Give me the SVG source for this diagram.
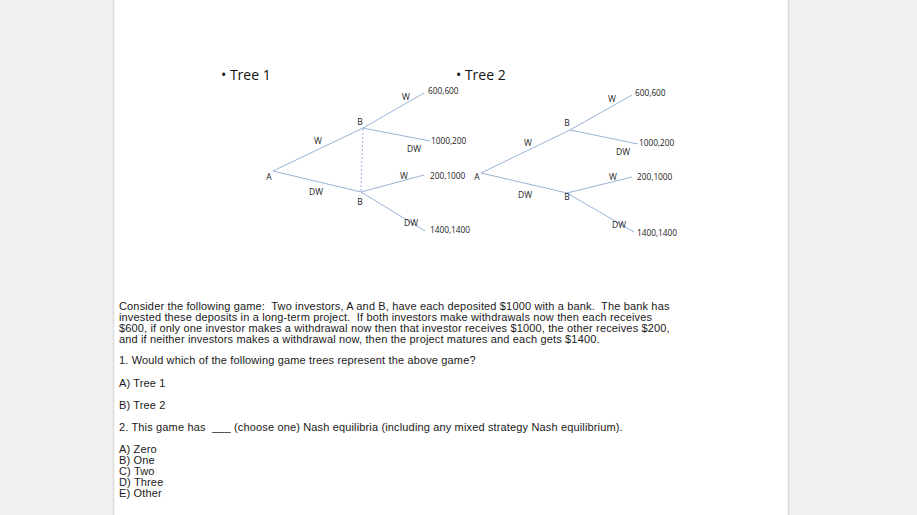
<svg xmlns="http://www.w3.org/2000/svg" width="917" height="515" viewBox="0 0 917 515">
<style>
.bg{fill:#f0f0f0}
.page{fill:#ffffff}
.edge{stroke:#dcdcdc;stroke-width:1.5}
.br{stroke:#9ab4d6;stroke-width:1;fill:none}
.dash{stroke:#9ab4d6;stroke-width:1;stroke-dasharray:2,2;fill:none}
.lbl{font-family:"Open Sans","Liberation Sans",sans-serif;font-size:8.5px;fill:#222}
.pay{font-family:"Open Sans","Liberation Sans",sans-serif;font-size:8.3px;fill:#222}
.hd{font-family:"Open Sans","Liberation Sans",sans-serif;font-size:14px;fill:#111}
.t{font-family:"Liberation Sans",Arial,sans-serif;font-size:11px;letter-spacing:0.15px;fill:#1a1a1a}
</style>
<rect class="bg" x="0" y="0" width="917" height="515"/>
<rect class="page" x="114" y="0" width="674" height="515"/>
<line class="edge" x1="113.5" y1="0" x2="113.5" y2="515"/>
<line class="edge" x1="788.5" y1="0" x2="788.5" y2="515"/>

<text class="hd" x="221" y="80">• Tree 1</text>
<text class="hd" x="456" y="80">• Tree 2</text>

<g id="connectors">
  <line class="br" x1="273" y1="171" x2="363" y2="128"/>
  <line class="br" x1="273" y1="171" x2="361" y2="192"/>
  <line class="dash" x1="363" y1="129" x2="361" y2="191"/>
  <line class="br" x1="363" y1="128" x2="424" y2="93"/>
  <line class="br" x1="363" y1="128" x2="430" y2="141"/>
  <line class="br" x1="361" y1="192" x2="424" y2="175"/>
  <line class="br" x1="361" y1="192" x2="425" y2="231"/>

  <line class="br" x1="481" y1="173" x2="570" y2="130"/>
  <line class="br" x1="481" y1="173" x2="567" y2="193"/>
  <line class="br" x1="570" y1="130" x2="632" y2="95"/>
  <line class="br" x1="570" y1="130" x2="638" y2="144"/>
  <line class="br" x1="567" y1="193" x2="632" y2="177"/>
  <line class="br" x1="567" y1="193" x2="634" y2="232"/>
</g>

<g id="t1-A"><text class="lbl" x="269" y="180" text-anchor="middle">A</text></g>
<g id="t1-B1"><text class="lbl" x="360" y="125" text-anchor="middle">B</text></g>
<g id="t1-B2"><text class="lbl" x="360" y="205" text-anchor="middle">B</text></g>
<g id="t1-labels">
  <text class="lbl" x="318" y="144" text-anchor="middle">W</text>
  <text class="lbl" x="316" y="195" text-anchor="middle">DW</text>
  <text class="lbl" x="406" y="100" text-anchor="middle">W</text>
  <text class="lbl" x="414" y="152" text-anchor="middle">DW</text>
  <text class="lbl" x="404" y="179" text-anchor="middle">W</text>
  <text class="lbl" x="411" y="226" text-anchor="middle">DW</text>
</g>
<g id="t1-payoffs">
  <text class="pay" x="428" y="94">600,600</text>
  <text class="pay" x="431" y="144">1000,200</text>
  <text class="pay" x="430" y="179">200,1000</text>
  <text class="pay" x="430" y="233">1400,1400</text>
</g>

<g id="t2-A"><text class="lbl" x="477" y="180" text-anchor="middle">A</text></g>
<g id="t2-B1"><text class="lbl" x="567" y="126" text-anchor="middle">B</text></g>
<g id="t2-B2"><text class="lbl" x="567" y="200" text-anchor="middle">B</text></g>
<g id="t2-labels">
  <text class="lbl" x="528" y="146" text-anchor="middle">W</text>
  <text class="lbl" x="525" y="198" text-anchor="middle">DW</text>
  <text class="lbl" x="612" y="102" text-anchor="middle">W</text>
  <text class="lbl" x="623" y="155" text-anchor="middle">DW</text>
  <text class="lbl" x="613" y="180" text-anchor="middle">W</text>
  <text class="lbl" x="619" y="228" text-anchor="middle">DW</text>
</g>
<g id="t2-payoffs">
  <text class="pay" x="635" y="96">600,600</text>
  <text class="pay" x="639" y="146">1000,200</text>
  <text class="pay" x="637" y="180">200,1000</text>
  <text class="pay" x="637" y="236">1400,1400</text>
</g>

<g id="body">
  <text class="t" x="119" y="310" xml:space="preserve">Consider the following game:  Two investors, A and B, have each deposited $1000 with a bank.  The bank has</text>
  <text class="t" x="119" y="321" xml:space="preserve">invested these deposits in a long-term project.  If both investors make withdrawals now then each receives</text>
  <text class="t" x="119" y="332">$600, if only one investor makes a withdrawal now then that investor receives $1000, the other receives $200,</text>
  <text class="t" x="119" y="343">and if neither investors makes a withdrawal now, then the project matures and each gets $1400.</text>
  <text class="t" x="119" y="364">1. Would which of the following game trees represent the above game?</text>
  <text class="t" x="119" y="387">A) Tree 1</text>
  <text class="t" x="119" y="409">B) Tree 2</text>
  <text class="t" x="119" y="431" xml:space="preserve">2. This game has  ___ (choose one) Nash equilibria (including any mixed strategy Nash equilibrium).</text>
  <text class="t" x="119" y="453">A) Zero</text>
  <text class="t" x="119" y="464">B) One</text>
  <text class="t" x="119" y="475">C) Two</text>
  <text class="t" x="119" y="486">D) Three</text>
  <text class="t" x="119" y="497">E) Other</text>
</g>
</svg>
